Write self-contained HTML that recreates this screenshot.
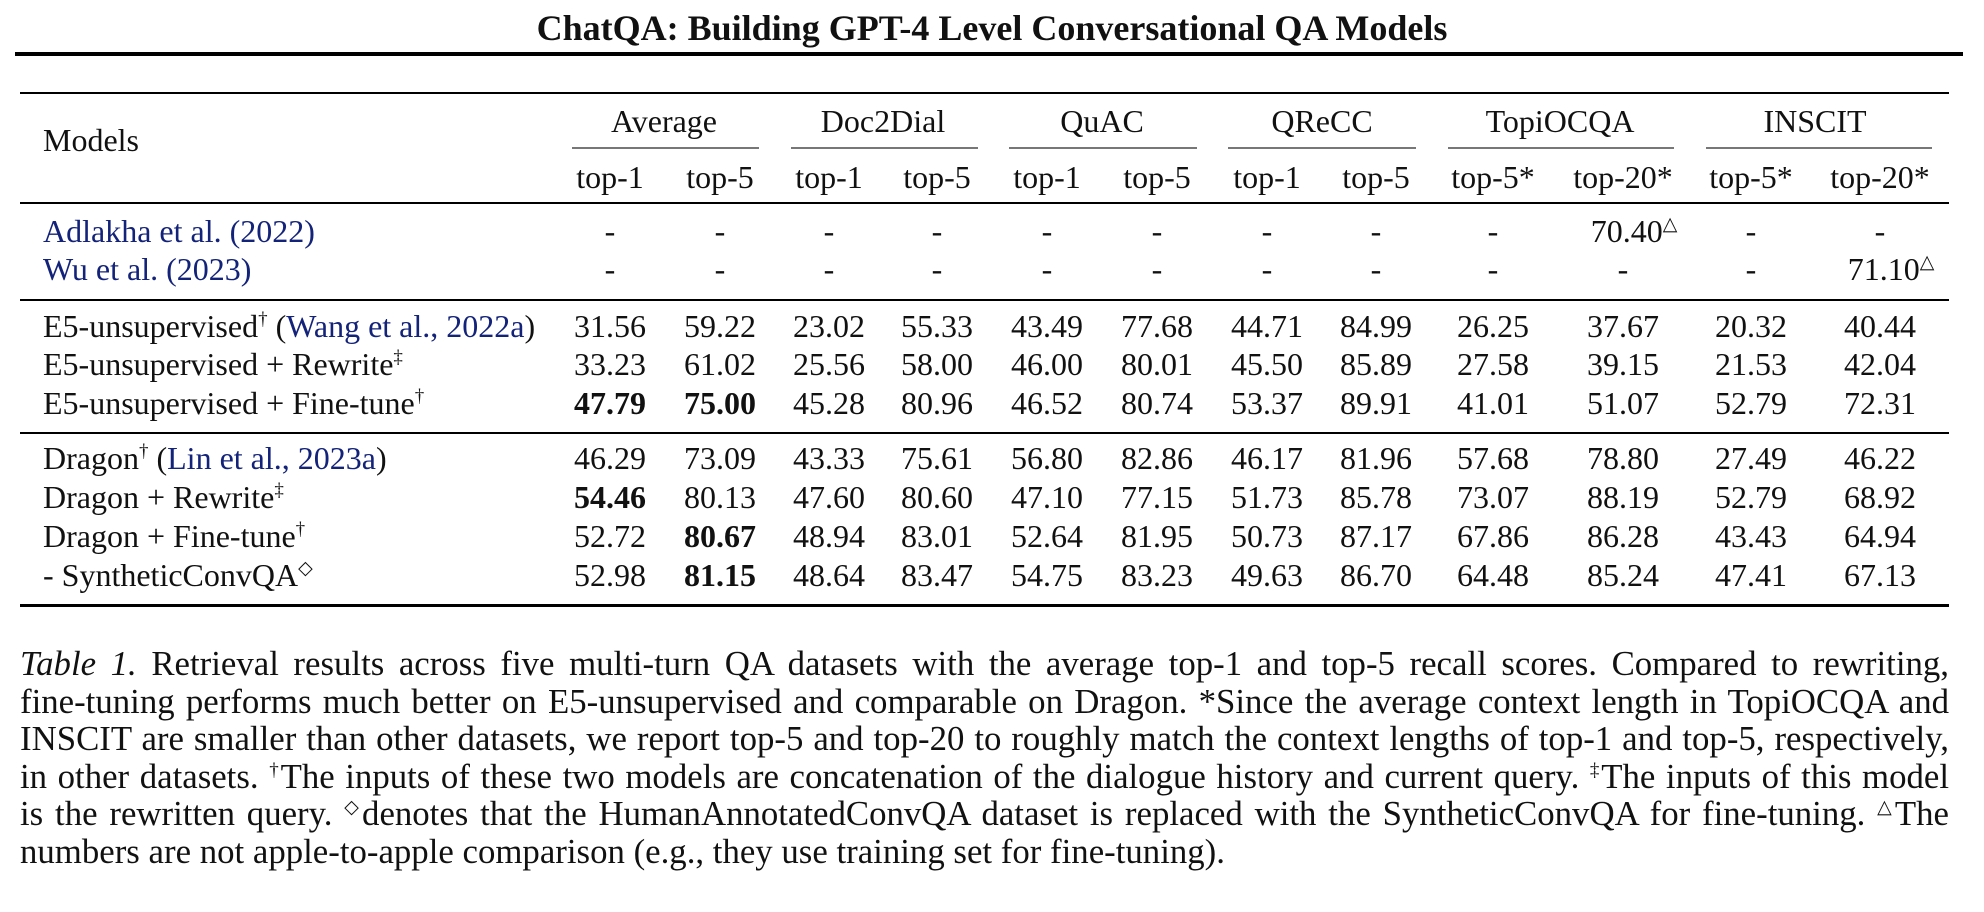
<!DOCTYPE html>
<html><head><meta charset="utf-8"><style>
html,body{margin:0;padding:0;background:#fff;}
body{width:1984px;height:912px;position:relative;overflow:hidden;font-family:"Liberation Serif",serif;color:#111;}
.a{position:absolute;white-space:nowrap;line-height:36px;height:36px;}
.c{transform:translateX(-50%);}
.r{position:absolute;background:#000;}
.g{position:absolute;background:#777;height:2px;}
.t{font-size:32px;}
.l{color:#14237a;}
sup{font-size:19px;vertical-align:0;position:relative;top:-12px;line-height:0;}
b{font-weight:bold;}
.cap{position:absolute;left:20px;width:1929px;font-size:34.8px;line-height:37.5px;top:645px;}
.cap div{white-space:nowrap;text-align:justify;text-align-last:justify;height:37.5px;}
.cap div.last{text-align-last:left;}
</style></head><body>
<div class="a c" style="left:992px;top:10px;font-size:36px;font-weight:bold;">ChatQA: Building GPT-4 Level Conversational QA Models</div>
<div class="r" style="left:15px;width:1948px;top:52px;height:4px;"></div>
<div class="r" style="left:20px;width:1929px;top:92px;height:2px;"></div>
<div class="r" style="left:20px;width:1929px;top:202px;height:2px;"></div>
<div class="r" style="left:20px;width:1929px;top:299px;height:2px;"></div>
<div class="r" style="left:20px;width:1929px;top:432px;height:2px;"></div>
<div class="r" style="left:20px;width:1929px;top:604px;height:3px;"></div>
<div class="g" style="left:572px;width:187px;top:147px;"></div>
<div class="g" style="left:791px;width:187px;top:147px;"></div>
<div class="g" style="left:1009px;width:188px;top:147px;"></div>
<div class="g" style="left:1228px;width:188px;top:147px;"></div>
<div class="g" style="left:1448px;width:226px;top:147px;"></div>
<div class="g" style="left:1706px;width:226px;top:147px;"></div>
<div id="tbl"></div>
<div class="cap">
<div><i>Table 1.</i> Retrieval results across five multi-turn QA datasets with the average top-1 and top-5 recall scores. Compared to rewriting,</div>
<div>fine-tuning performs much better on E5-unsupervised and comparable on Dragon. *Since the average context length in TopiOCQA and</div>
<div>INSCIT are smaller than other datasets, we report top-5 and top-20 to roughly match the context lengths of top-1 and top-5, respectively,</div>
<div>in other datasets. <sup>†</sup>The inputs of these two models are concatenation of the dialogue history and current query. <sup>‡</sup>The inputs of this model</div>
<div>is the rewritten query. <sup>◇</sup>denotes that the HumanAnnotatedConvQA dataset is replaced with the SyntheticConvQA for fine-tuning. <sup>△</sup>The</div>
<div class="last">numbers are not apple-to-apple comparison (e.g., they use training set for fine-tuning).</div>
</div>
<script>
var cols=[610,720,829,937,1047,1157,1267,1376,1493,1623,1751,1880];
var groups=[["Average",664],["Doc2Dial",883],["QuAC",1102],["QReCC",1322],["TopiOCQA",1560],["INSCIT",1815]];
var subs=["top-1","top-5","top-1","top-5","top-1","top-5","top-1","top-5","top-5*","top-20*","top-5*","top-20*"];
var rows=[
[231,'<span class="l">Adlakha et al. (2022)</span>',["-","-","-","-","-","-","-","-","-","70.40<sup>△</sup>","-","-"]],
[269,'<span class="l">Wu et al. (2023)</span>',["-","-","-","-","-","-","-","-","-","-","-","71.10<sup>△</sup>"]],
[326,'E5-unsupervised<sup>†</sup> (<span class="l">Wang et al., 2022a</span>)',["31.56","59.22","23.02","55.33","43.49","77.68","44.71","84.99","26.25","37.67","20.32","40.44"]],
[364,'E5-unsupervised + Rewrite<sup>‡</sup>',["33.23","61.02","25.56","58.00","46.00","80.01","45.50","85.89","27.58","39.15","21.53","42.04"]],
[403,'E5-unsupervised + Fine-tune<sup>†</sup>',["<b>47.79</b>","<b>75.00</b>","45.28","80.96","46.52","80.74","53.37","89.91","41.01","51.07","52.79","72.31"]],
[458,'Dragon<sup>†</sup> (<span class="l">Lin et al., 2023a</span>)',["46.29","73.09","43.33","75.61","56.80","82.86","46.17","81.96","57.68","78.80","27.49","46.22"]],
[497,'Dragon + Rewrite<sup>‡</sup>',["<b>54.46</b>","80.13","47.60","80.60","47.10","77.15","51.73","85.78","73.07","88.19","52.79","68.92"]],
[536,'Dragon + Fine-tune<sup>†</sup>',["52.72","<b>80.67</b>","48.94","83.01","52.64","81.95","50.73","87.17","67.86","86.28","43.43","64.94"]],
[575,'- SyntheticConvQA<sup>◇</sup>',["52.98","<b>81.15</b>","48.64","83.47","54.75","83.23","49.63","86.70","64.48","85.24","47.41","67.13"]]
];
var h='';
h+='<div class="a t" style="left:43px;top:122px">Models</div>';
groups.forEach(function(g){h+='<div class="a t c" style="left:'+g[1]+'px;top:103px">'+g[0]+'</div>';});
subs.forEach(function(s,i){h+='<div class="a t c" style="left:'+cols[i]+'px;top:159px">'+s+'</div>';});
rows.forEach(function(r){
 h+='<div class="a t" style="left:43px;top:'+(r[0]-18)+'px">'+r[1]+'</div>';
 r[2].forEach(function(v,i){
  var off=v.indexOf('<sup>')>=0?11:0;
  h+='<div class="a t c" style="left:'+(cols[i]+off)+'px;top:'+(r[0]-18)+'px">'+v+'</div>';
 });
});
document.getElementById('tbl').innerHTML=h;
</script>
</body></html>
